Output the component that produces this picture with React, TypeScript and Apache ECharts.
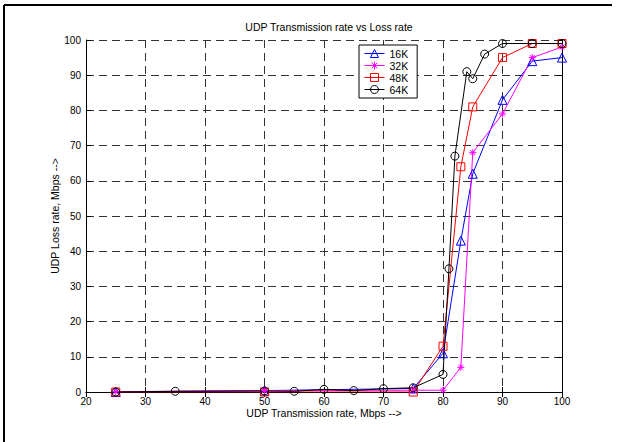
import React, { useEffect, useRef } from "react";
import * as echarts from "echarts";

const xTicks = { min: 20, max: 100, interval: 10 };
const yTicks = { min: 0, max: 100, interval: 10 };

const seriesNames = ["16K", "32K", "48K", "64K"];

const x16K = [25, 50, 75, 80, 83, 85, 90, 95, 100];
const y16K = [0, 0.4, 1, 11, 43, 62, 83, 94, 95];

const x32K = [25, 50, 75, 80, 83, 85, 90, 95, 100];
const y32K = [0.1, 0.4, 0.5, 0.5, 7, 68, 79, 95, 98];

const x48K = [25, 50, 75, 80, 83, 85, 90, 95, 100];
const y48K = [0, 0, 0, 13, 64, 81, 95, 99, 99];

const x64K = [25, 35, 50, 55, 60, 65, 70, 75, 80, 81, 82, 84, 85, 87, 90, 95, 100];
const y64K = [0, 0.2, 0.3, 0.2, 0.75, 0.4, 0.95, 1.2, 5, 35, 67, 91, 89, 96, 99, 99, 99];

const titleText = "UDP Transmission rate vs Loss rate";
const xLabel = "UDP Transmission rate, Mbps -->";
const yLabel = "UDP Loss rate, Mbps -->";

const FONT = "'Liberation Sans', Arial, Helvetica, sans-serif";
const STAR = "path://M0,-1L0,1M-1,0L1,0M-0.7,-0.7L0.7,0.7M-0.7,0.7L0.7,-0.7";

const colors = ["#0000ff", "#ff00ff", "#ff0000", "#000000"];
const symbols = ["triangle", STAR, "rect", "circle"];
const symbolSizes = [9, 7, 8, 8];

function pairs(xs: number[], ys: number[]) {
  return xs.map((x, i) => [x, ys[i]]);
}

export default function App() {
  const ref = useRef<HTMLDivElement>(null);
  useEffect(() => {
    if (!ref.current) return;
    const chart = echarts.init(ref.current, undefined, { renderer: "svg" });
    const mk = (i: number, data: number[][]) => ({
      name: seriesNames[i],
      type: "line",
      data,
      symbol: symbols[i],
      symbolSize: symbolSizes[i],
      showSymbol: true,
      color: colors[i],
      lineStyle: { color: colors[i], width: 1 },
      itemStyle: { color: "rgba(0,0,0,0)", borderColor: colors[i], borderWidth: 1 },
      emphasis: { disabled: true },
      xAxisIndex: 0,
      yAxisIndex: 0,
    });
    const baseAxis = {
      axisLine: { show: true, lineStyle: { color: "#000", width: 1 } },
      axisTick: { show: true, inside: true, length: 5, lineStyle: { color: "#000" } },
    };
    chart.setOption({
      animation: false,
      backgroundColor: "#fff",
      title: {
        text: titleText,
        left: 324,
        top: 16,
        textAlign: "center",
        textStyle: { fontFamily: FONT, fontSize: 10.5, fontWeight: "normal", color: "#000" },
      },
      grid: { left: 86, right: 55, top: 40, bottom: 50, containLabel: false },
      legend: {
        orient: "vertical",
        left: 359,
        top: 45,
        backgroundColor: "#fff",
        borderColor: "#000",
        borderWidth: 1,
        padding: [3, 9, 3, 5],
        itemWidth: 20,
        itemHeight: 10,
        itemGap: 1,
        textStyle: { fontFamily: FONT, fontSize: 10.5, color: "#000", lineHeight: 10 },
        data: seriesNames.map((n, i) => ({
          name: n,
          itemStyle: { color: "rgba(0,0,0,0)", borderColor: colors[i], borderWidth: 1 },
          lineStyle: { color: colors[i], width: 1 },
        })),
        z: 10,
      },
      xAxis: [
        {
          type: "value",
          ...xTicks,
          position: "bottom",
          ...baseAxis,
          axisLabel: { color: "#000", fontFamily: FONT, fontSize: 10, margin: 4 },
          splitLine: { show: true, lineStyle: { color: "#333", type: [8, 5], width: 1 } },
          name: xLabel,
          nameLocation: "middle",
          nameGap: 15,
          nameMoveOverlap: false,
          nameTextStyle: { fontFamily: FONT, fontSize: 10.5, color: "#000" },
        },
        {
          type: "value",
          ...xTicks,
          position: "top",
          ...baseAxis,
          axisLabel: { show: false },
          splitLine: { show: false },
        },
      ],
      yAxis: [
        {
          type: "value",
          ...yTicks,
          position: "left",
          ...baseAxis,
          axisLabel: { color: "#000", fontFamily: FONT, fontSize: 10, margin: 5 },
          splitLine: { show: true, lineStyle: { color: "#333", type: [8, 5], width: 1 } },
          name: yLabel,
          nameLocation: "middle",
          nameGap: 26,
          nameRotate: 90,
          nameMoveOverlap: false,
          nameTextStyle: { fontFamily: FONT, fontSize: 10.5, color: "#000" },
        },
        {
          type: "value",
          ...yTicks,
          position: "right",
          ...baseAxis,
          axisLabel: { show: false },
          splitLine: { show: false },
        },
      ],
      series: [
        mk(0, pairs(x16K, y16K)),
        mk(1, pairs(x32K, y32K)),
        mk(2, pairs(x48K, y48K)),
        mk(3, pairs(x64K, y64K)),
      ],
      graphic: [
        { type: "line", shape: { x1: 4, y1: 5, x2: 612, y2: 5 }, style: { stroke: "#000", lineWidth: 2 } },
        { type: "line", shape: { x1: 4, y1: 5, x2: 4, y2: 442 }, style: { stroke: "#000", lineWidth: 2 } },
      ],
    });
    return () => chart.dispose();
  }, []);
  return (
    <div
      ref={ref}
      style={{ position: "fixed", left: 0, top: 0, width: 617, height: 442 }}
    />
  );
}
